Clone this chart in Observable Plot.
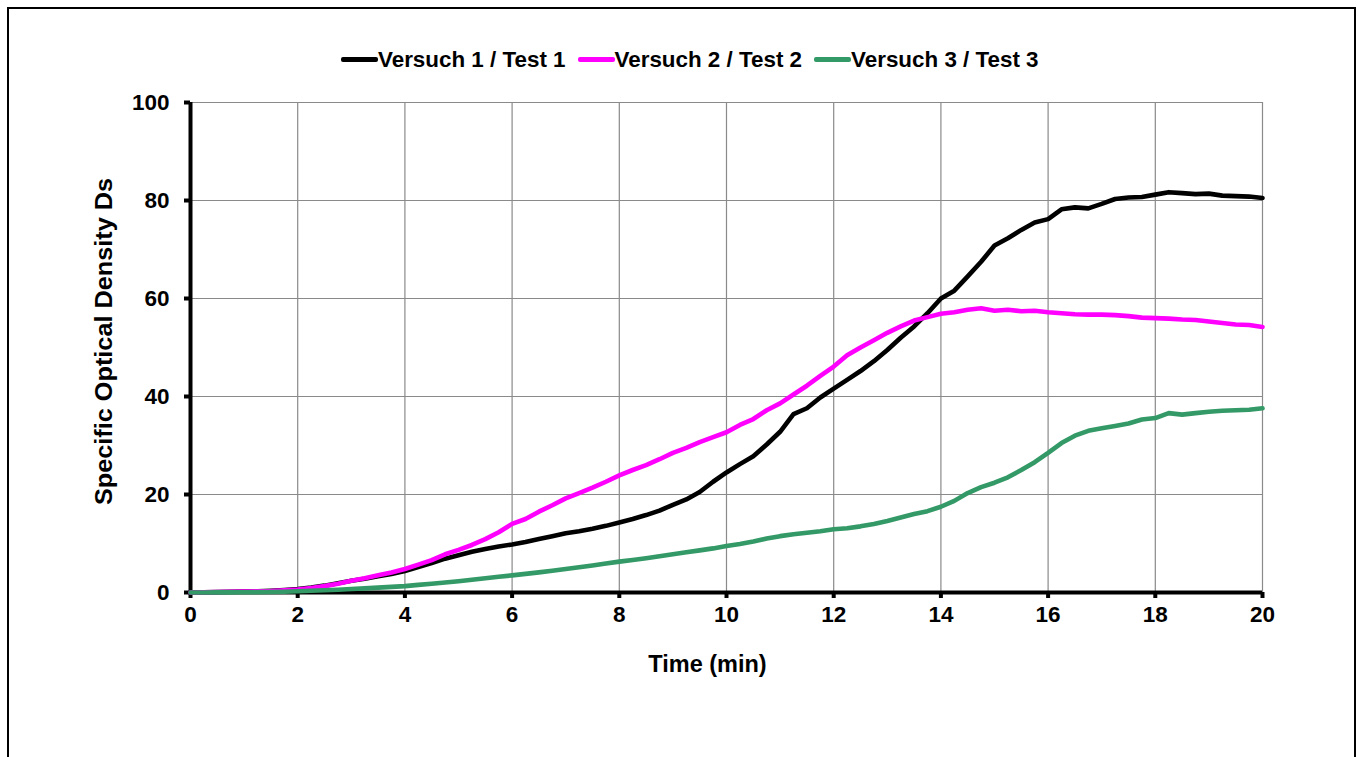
<!DOCTYPE html>
<html>
<head>
<meta charset="utf-8">
<script src="https://cdn.jsdelivr.net/npm/d3@7"></script>
<script src="https://cdn.jsdelivr.net/npm/@observablehq/plot@0.6"></script>
<style>
  html, body { margin: 0; padding: 0; background: #fff; overflow: hidden; }
  body { width: 1358px; height: 757px; position: relative; font-family: "Liberation Sans", Arial, sans-serif; }
  #frame { position: absolute; left: 7px; top: 7px; width: 1345px; height: 800px; border: 2.5px solid #000; pointer-events: none; }
  #legend { height: 80px; box-sizing: border-box; padding-top: 39px; padding-left: 341px; display: flex; align-items: center; font-weight: bold; font-size: 22.4px; color: #000; }
  .item { display: flex; align-items: center; margin-right: 12px; }
  .sw { width: 37px; height: 4.5px; border-radius: 2px; }
  #chart svg { display: block; }
</style>
</head>
<body>
<div id="legend"></div>
<div id="chart"></div>
<div id="frame"></div>
<script>
const seriesNames = ["Versuch 1 / Test 1", "Versuch 2 / Test 2", "Versuch 3 / Test 3"];
const seriesColors = ["#000000", "#FF00FF", "#339966"];

const time = [0,0.25,0.5,0.75,1,1.25,1.5,1.75,2,2.25,2.5,2.75,3,3.25,3.5,3.75,4,4.25,4.5,4.75,5,5.25,5.5,5.75,6,6.25,6.5,6.75,7,7.25,7.5,7.75,8,8.25,8.5,8.75,9,9.25,9.5,9.75,10,10.25,10.5,10.75,11,11.25,11.5,11.75,12,12.25,12.5,12.75,13,13.25,13.5,13.75,14,14.25,14.5,14.75,15,15.25,15.5,15.75,16,16.25,16.5,16.75,17,17.25,17.5,17.75,18,18.25,18.5,18.75,19,19.25,19.5,19.75,20];

const test1 = [0,0.05,0.1,0.15,0.2,0.25,0.35,0.5,0.7,1.0,1.4,1.9,2.4,2.8,3.3,3.8,4.4,5.2,6.0,6.9,7.6,8.3,8.9,9.4,9.8,10.3,10.9,11.5,12.1,12.5,13.0,13.6,14.3,15.0,15.8,16.7,17.9,19.0,20.5,22.6,24.5,26.2,27.8,30.2,32.8,36.4,37.6,39.8,41.6,43.4,45.2,47.2,49.5,52.0,54.3,57.0,60.0,61.6,64.5,67.5,70.8,72.3,74.0,75.5,76.2,78.2,78.6,78.4,79.3,80.3,80.6,80.7,81.2,81.7,81.5,81.3,81.4,81.0,80.9,80.8,80.5];

const test2 = [0,0.05,0.1,0.15,0.2,0.25,0.3,0.45,0.6,0.9,1.3,1.8,2.4,2.9,3.5,4.1,4.8,5.7,6.6,7.8,8.7,9.7,10.9,12.3,14.0,15.0,16.5,17.8,19.2,20.3,21.4,22.6,23.9,25.0,26.0,27.2,28.5,29.5,30.7,31.7,32.7,34.2,35.4,37.2,38.6,40.4,42.2,44.2,46.1,48.4,50.0,51.5,53.0,54.3,55.5,56.2,56.9,57.2,57.7,58.0,57.5,57.7,57.4,57.5,57.2,57.0,56.8,56.7,56.7,56.6,56.4,56.1,56.0,55.9,55.7,55.6,55.3,55.0,54.7,54.6,54.2];

const test3 = [0,0.01,0.02,0.03,0.05,0.07,0.1,0.15,0.25,0.35,0.45,0.55,0.7,0.85,1.0,1.15,1.3,1.55,1.8,2.05,2.3,2.6,2.9,3.2,3.5,3.8,4.1,4.45,4.8,5.15,5.5,5.9,6.3,6.65,7.0,7.4,7.8,8.2,8.6,9.0,9.5,9.9,10.4,11.0,11.5,11.9,12.2,12.5,12.9,13.1,13.5,14.0,14.6,15.3,16.0,16.6,17.5,18.7,20.3,21.5,22.4,23.5,25.0,26.6,28.5,30.5,32.0,33.0,33.5,34.0,34.5,35.3,35.6,36.6,36.3,36.6,36.9,37.1,37.2,37.3,37.6];

const xTicks = [0,2,4,6,8,10,12,14,16,18,20];
const yTicks = [0,20,40,60,80,100];
const xLabel = "Time (min)";
const yLabel = "Specific Optical Density Ds";

const seriesValues = [test1, test2, test3];
const data = seriesNames.flatMap((name, i) => time.map((t, j) => ({series: name, t, v: seriesValues[i][j]})));

// legend
const legend = document.getElementById("legend");
seriesNames.forEach((name, i) => {
  const it = document.createElement("div");
  it.className = "item";
  const sw = document.createElement("span");
  sw.className = "sw";
  sw.style.background = seriesColors[i];
  const tx = document.createElement("span");
  tx.textContent = name;
  it.appendChild(sw);
  it.appendChild(tx);
  legend.appendChild(it);
});

const chart = Plot.plot({
  width: 1358,
  height: 677,
  marginTop: 22,
  marginBottom: 165,
  marginLeft: 190,
  marginRight: 96,
  style: {fontFamily: "'Liberation Sans', Arial, sans-serif", fontWeight: "bold", fontSize: "22.5px", color: "#000", background: "transparent", overflow: "visible"},
  x: {domain: [0, 20]},
  y: {domain: [0, 100]},
  color: {domain: seriesNames, range: seriesColors},
  marks: [
    Plot.gridX(xTicks, {stroke: "#8a8a8a", strokeOpacity: 1, strokeWidth: 1.2}),
    Plot.gridY(yTicks, {stroke: "#8a8a8a", strokeOpacity: 1, strokeWidth: 1.2}),
    Plot.axisX(xTicks, {tickSize: 6, tickPadding: 8, strokeWidth: 4, label: null, tickFormat: d => String(d)}),
    Plot.axisY(yTicks, {tickSize: 6, tickPadding: 15, strokeWidth: 4, label: null, tickFormat: d => String(d)}),
    Plot.ruleX([0], {strokeWidth: 4, stroke: "#000"}),
    Plot.ruleY([0], {strokeWidth: 4, stroke: "#000"}),
    Plot.line(data, {x: "t", y: "v", z: "series", stroke: "series", strokeWidth: 4.6, strokeLinejoin: "round", strokeLinecap: "round"}),
    Plot.text([xLabel], {frameAnchor: "bottom", dx: -19, dy: 72, lineAnchor: "middle", textAnchor: "middle", text: d => d, fontWeight: "bold", fontSize: 23.5}),
    Plot.text([yLabel], {frameAnchor: "left", dx: -86, dy: -6, rotate: -90, lineAnchor: "middle", textAnchor: "middle", text: d => d, fontWeight: "bold", fontSize: 23.5, className: "ylabel"})
  ]
});
document.getElementById("chart").appendChild(chart);
// stretch the vertical title to the length it has in the reference
chart.querySelectorAll(".ylabel text").forEach(t => {
  t.setAttribute("textLength", 327);
  t.setAttribute("lengthAdjust", "spacingAndGlyphs");
});
</script>
</body>
</html>
